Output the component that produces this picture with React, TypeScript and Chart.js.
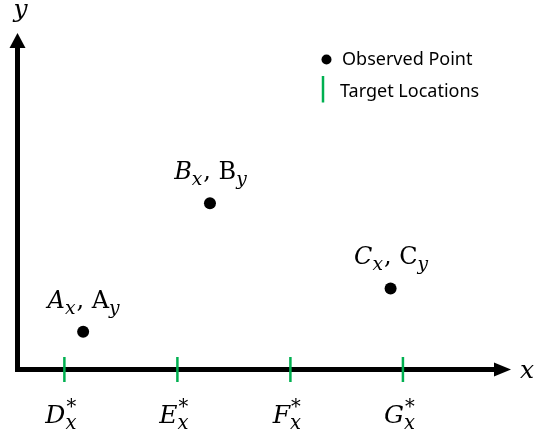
import React, { useEffect, useRef } from "react";
import { Chart, registerables } from "chart.js";

Chart.register(...registerables);

// ---- data ----
const pointNames = ["A", "B", "C"];
const pointX = [13.3, 39.0, 75.6];
const pointY = [11.2, 49.4, 24.1];
const targetNames = ["D", "E", "F", "G"];
const targetX = [9.5, 32.4, 55.3, 78.1];
const legendLabels = ["Observed Point", "Target Locations"];
const axisNames = ["x", "y"];

const SERIF = '"DejaVu Serif", "Liberation Serif", serif';
const SANS = '"Noto Sans", "Open Sans", sans-serif';
const GREEN = "#00b050";

type Seg = { t?: string; it?: boolean; pos?: "main" | "sub" | "supsub"; sup?: string; sub?: string };

function fontOf(size: number, it: boolean) {
  return `${it ? "italic " : ""}${size}px ${SERIF}`;
}

function drawRich(ctx: CanvasRenderingContext2D, segs: Seg[], cx: number, base: number, size: number) {
  const subSize = size * 0.78;
  const widths = segs.map((sg) => {
    if (sg.pos === "supsub") {
      ctx.font = fontOf(subSize, false);
      const a = ctx.measureText(sg.sup || "").width;
      ctx.font = fontOf(subSize, true);
      const b = ctx.measureText(sg.sub || "").width;
      return Math.max(a, b) + 1;
    }
    ctx.font = fontOf(sg.pos === "sub" ? subSize : size, !!sg.it);
    return ctx.measureText(sg.t || "").width + (sg.pos === "sub" ? 1 : 0);
  });
  const total = widths.reduce((a, b) => a + b, 0);
  let x = cx - total / 2;
  ctx.textAlign = "left";
  ctx.textBaseline = "alphabetic";
  ctx.fillStyle = "#000";
  segs.forEach((sg, i) => {
    if (sg.pos === "supsub") {
      ctx.font = fontOf(subSize, false);
      ctx.fillText(sg.sup || "", x + 1, base - size * 0.4);
      ctx.font = fontOf(subSize, true);
      ctx.fillText(sg.sub || "", x, base + size * 0.27);
    } else if (sg.pos === "sub") {
      ctx.font = fontOf(subSize, !!sg.it);
      ctx.fillText(sg.t || "", x, base + size * 0.25);
    } else {
      ctx.font = fontOf(size, !!sg.it);
      ctx.fillText(sg.t || "", x, base);
    }
    x += widths[i];
  });
}

const annotPlugin = {
  id: "annot",
  beforeDatasetsDraw(chart: any) {
    const { ctx } = chart;
    const xs = chart.scales.x;
    const ys = chart.scales.y;
    const x0 = xs.getPixelForValue(0);
    const y0 = ys.getPixelForValue(0);
    const xEnd = xs.getPixelForValue(100);
    const yEnd = ys.getPixelForValue(100);
    ctx.save();
    ctx.fillStyle = "#000";
    // x axis
    ctx.fillRect(x0 - 2.5, y0 - 2.5, xEnd - 16 - (x0 - 2.5), 5);
    ctx.beginPath();
    ctx.moveTo(xEnd, y0);
    ctx.lineTo(xEnd - 17, y0 - 7);
    ctx.lineTo(xEnd - 17, y0 + 7);
    ctx.closePath();
    ctx.fill();
    // y axis
    ctx.fillRect(x0 - 2.5, yEnd + 14, 5, y0 + 2.5 - (yEnd + 14));
    ctx.beginPath();
    ctx.moveTo(x0, yEnd);
    ctx.lineTo(x0 - 8, yEnd + 15);
    ctx.lineTo(x0 + 8, yEnd + 15);
    ctx.closePath();
    ctx.fill();
    ctx.restore();
  },
  afterDatasetsDraw(chart: any) {
    const { ctx } = chart;
    const xs = chart.scales.x;
    const ys = chart.scales.y;
    const x0 = xs.getPixelForValue(0);
    const y0 = ys.getPixelForValue(0);
    const xEnd = xs.getPixelForValue(100);
    const yEnd = ys.getPixelForValue(100);
    ctx.save();
    // point labels
    pointNames.forEach((n, i) => {
      const px = xs.getPixelForValue(pointX[i]);
      const py = ys.getPixelForValue(pointY[i]);
      drawRich(
        ctx,
        [
          { t: n, it: true },
          { t: "x", it: true, pos: "sub" },
          { t: ", " },
          { t: n },
          { t: "y", it: true, pos: "sub" },
        ],
        px + 1,
        py - 24,
        24
      );
    });
    // tick labels
    targetNames.forEach((n, i) => {
      const px = xs.getPixelForValue(targetX[i]);
      drawRich(ctx, [{ t: n, it: true }, { pos: "supsub", sup: "*", sub: "x" }], px - 3, y0 + 53, 25);
    });
    // axis names
    ctx.fillStyle = "#000";
    ctx.font = fontOf(25, true);
    ctx.textAlign = "left";
    ctx.textBaseline = "alphabetic";
    ctx.fillText(axisNames[0], xEnd + 9, y0 + 8);
    ctx.textAlign = "center";
    ctx.fillText(axisNames[1], x0 + 3, yEnd - 16);
    // legend
    const lx = 326.5;
    ctx.beginPath();
    ctx.arc(lx, 59.5, 5, 0, Math.PI * 2);
    ctx.fillStyle = "#000";
    ctx.fill();
    ctx.strokeStyle = GREEN;
    ctx.lineWidth = 2.5;
    ctx.beginPath();
    ctx.moveTo(lx - 3.5, 76);
    ctx.lineTo(lx - 3.5, 102.5);
    ctx.stroke();
    ctx.font = `18px ${SANS}`;
    ctx.fillStyle = "#000";
    ctx.textAlign = "left";
    ctx.textBaseline = "middle";
    ctx.fillText(legendLabels[0], 342, 60);
    ctx.fillText(legendLabels[1], 340, 92);
    ctx.restore();
  },
};

export default function App() {
  const ref = useRef<HTMLCanvasElement>(null);
  useEffect(() => {
    if (!ref.current) return;
    const chart = new Chart(ref.current, {
      type: "scatter",
      data: {
        datasets: [
          {
            label: legendLabels[0],
            data: pointX.map((x, i) => ({ x, y: pointY[i] })),
            backgroundColor: "#000",
            borderWidth: 0,
            pointRadius: 6,
            clip: false as any,
          },
          {
            label: legendLabels[1],
            data: targetX.map((x) => ({ x, y: 0 })),
            pointStyle: "line",
            rotation: 90,
            pointRadius: 12.5,
            borderColor: GREEN,
            borderWidth: 2.5,
            clip: false as any,
          },
        ],
      },
      options: {
        responsive: false,
        animation: false,
        events: [],
        layout: { padding: { left: 17.5, right: 26, top: 33, bottom: 70.5 } },
        plugins: { legend: { display: false }, tooltip: { enabled: false } },
        scales: {
          x: { type: "linear", min: 0, max: 100, display: false },
          y: { type: "linear", min: 0, max: 100, display: false },
        },
      },
      plugins: [annotPlugin],
    });
    return () => chart.destroy();
  }, []);
  return (
    <div style={{ position: "fixed", left: 0, top: 0, width: 537, height: 440, background: "#fff" }}>
      <canvas ref={ref} width={537} height={440} />
    </div>
  );
}
